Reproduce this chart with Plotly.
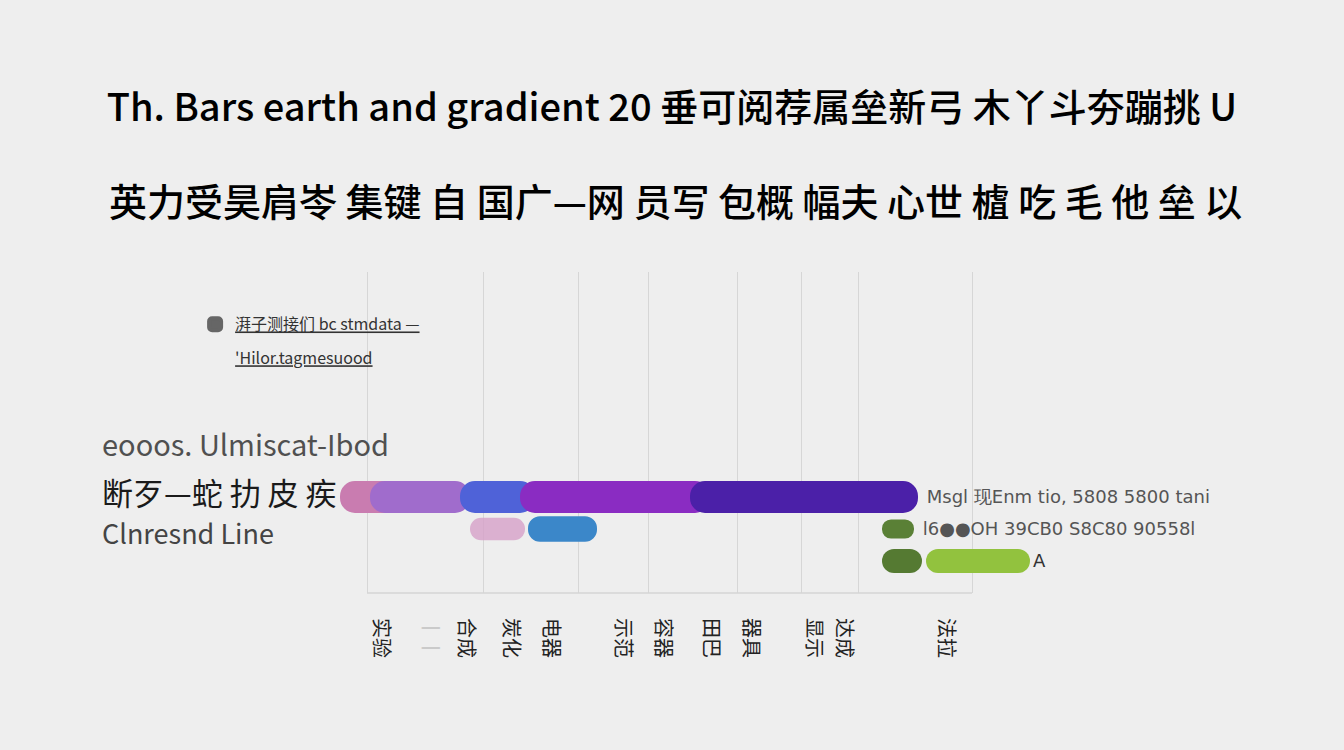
import plotly.graph_objects as go

# ---- data ----
title_line1 = "Th. Bars earth and gradient 20 垂可阅荐属垒新弓 木丫斗夯蹦挑 U"
title_line2 = "英力受昊肩岺 集键 自 国广—网 员写 包概 幅夫 心世 樝 吃 毛 他 垒 以"

row_ids = ["r0", "r1", "r2", "r3"]
row_labels = ["eooos. Ulmiscat-Ibod", "断歹—蛇 扐 皮 疾", "Clnresnd Line", ""]

x_tick_vals = [4.0, 8.9, 12.5, 17.0, 21.0, 28.2, 32.2, 37.0, 41.0, 47.3, 50.3, 60.5]
x_tick_text = ["实验", "<span style='color:#c4c4c4'>丨丨</span>", "合成", "炭化", "电器", "示范",
               "容器", "田巴", "器具", "显示", "达成", "法拉"]
grid_vals = [2.7, 14.3, 23.8, 30.8, 39.7, 46.1, 51.8, 63.2]

# main gradient bar (row r1), segment starts / ends
seg_start = [0.0, 3.0, 12.0, 18.0, 35.0]
seg_end = [6.0, 13.0, 19.5, 37.0, 57.8]
seg_colors = ["#c97cb0", "#a06ccc", "#4f62d8", "#8a2cc2", "#4b20a8"]

# row r2 bars
r2_start = [13.0, 18.8, 54.2]
r2_end = [18.5, 25.7, 57.4]
r2_colors = ["rgba(214,160,200,0.8)", "#3b87c9", "#5a8036"]
r2_width = [0.7, 0.8, 0.6]

# row r3 bars
r3_start = [54.2, 58.6]
r3_end = [58.2, 69.0]
r3_colors = ["#557a32", "#92c23e"]

value_labels = ["\u00a0Msgl 现Enm tio, 5808 5800 tani", "\u00a0l6●●OH 39CB0 S8C80 90558l", "A"]

legend_names = ["<u>湃子测接们 bc stmdata —</u>", "<u>'Hilor.tagmesuood</u>"]
legend_colors = ["#666666", "rgba(0,0,0,0)"]

fig = go.Figure()

# legend entries (bars kept outside the x range so only their keys show)
for i in range(len(legend_names)):
    fig.add_trace(go.Bar(
        y=["r0"], x=[1], base=[-50], orientation="h", name=legend_names[i],
        legendgroup="g%d" % i,
        marker=dict(color=legend_colors[i], line=dict(color=legend_colors[i], width=4)),
        showlegend=True, hoverinfo="skip"))

for i in range(len(seg_start)):
    last = i == len(seg_start) - 1
    fig.add_trace(go.Bar(
        y=["r1"], base=[seg_start[i]], x=[seg_end[i] - seg_start[i]],
        orientation="h", width=1.0, marker=dict(color=seg_colors[i], line_width=0),
        text=[value_labels[0]] if last else None,
        textposition="outside" if last else None,
        cliponaxis=False, constraintext="none",
        textfont=dict(family="DejaVu Sans", size=18, color="#555555"),
        showlegend=False))

for i in range(len(r2_start)):
    last = i == len(r2_start) - 1
    fig.add_trace(go.Bar(
        y=["r2"], base=[r2_start[i]], x=[r2_end[i] - r2_start[i]],
        orientation="h", width=r2_width[i], marker=dict(color=r2_colors[i], line_width=0),
        text=[value_labels[1]] if last else None,
        textposition="outside" if last else None,
        cliponaxis=False, constraintext="none",
        textfont=dict(family="DejaVu Sans", size=18, color="#555555"),
        showlegend=False))

for i in range(len(r3_start)):
    last = i == len(r3_start) - 1
    fig.add_trace(go.Bar(
        y=["r3"], base=[r3_start[i]], x=[r3_end[i] - r3_start[i]],
        orientation="h", width=0.75, marker=dict(color=r3_colors[i], line_width=0),
        text=[value_labels[2]] if last else None,
        textposition="outside" if last else None,
        cliponaxis=False, constraintext="none",
        textfont=dict(family="DejaVu Sans", size=18, color="#333333"),
        showlegend=False))

label_styles = [
    dict(size=29, color="#505050", shift=22),
    dict(size=31, color="#1a1a1a", shift=5),
    dict(size=27, color="#444444", shift=-4),
]
annotations = []
for i, st in enumerate(label_styles):
    annotations.append(dict(
        xref="paper", yref="y", x=-0.343, y=row_ids[i], xanchor="left", yanchor="middle",
        text=row_labels[i], showarrow=False, yshift=st["shift"],
        font=dict(family="Noto Sans CJK SC", size=st["size"], color=st["color"])))

annotations.append(dict(
    xref="paper", yref="paper", x=0.479, y=1.227, xanchor="center", yanchor="middle",
    text=title_line2, showarrow=False,
    font=dict(family="Noto Sans CJK SC", size=38, color="#000000", weight=500)))

fig.update_layout(
    width=1344, height=750,
    paper_bgcolor="#eeeeee", plot_bgcolor="rgba(0,0,0,0)",
    margin=dict(l=340, r=304, t=272, b=157),
    barmode="overlay", barcornerradius=15,
    title=dict(text=title_line1, x=0.5, xanchor="center", xref="container",
               y=1 - 108 / 750, yanchor="middle", yref="container",
               font=dict(family="Noto Sans CJK SC", size=38, color="#000000", weight=500)),
    showlegend=True,
    legend=dict(x=-0.207, y=0.89, xref="paper", yref="paper", xanchor="left", yanchor="top",
                tracegroupgap=10,
                bgcolor="rgba(0,0,0,0)", font=dict(family="Noto Sans CJK SC", size=16, color="#333333")),
    annotations=annotations,
    shapes=[dict(type="line", xref="x", yref="paper", x0=grid_vals[0], x1=grid_vals[-1], y0=0, y1=0,
                 line=dict(color="#d4d4d4", width=1.5))],
)

fig.update_xaxes(
    range=[0, 70], tickmode="array", tickvals=x_tick_vals, ticktext=x_tick_text,
    tickangle=90, ticks="outside", ticklen=20, tickcolor="rgba(0,0,0,0)",
    showgrid=False, zeroline=False, showline=False,
    tickfont=dict(family="Noto Sans CJK SC", size=20, color="#222222"),
    minor=dict(tickmode="array", tickvals=grid_vals, showgrid=True, gridcolor="#d6d6d6", gridwidth=1, ticks=""),
)
fig.update_yaxes(
    type="category", categoryorder="array", categoryarray=row_ids,
    range=[4.0, -6.03], showticklabels=False, showgrid=False, zeroline=False, showline=False,
)

fig.write_html("out.html", config={"displayModeBar": False},
               post_script="document.body.style.margin='0';document.body.style.overflow='hidden';")
